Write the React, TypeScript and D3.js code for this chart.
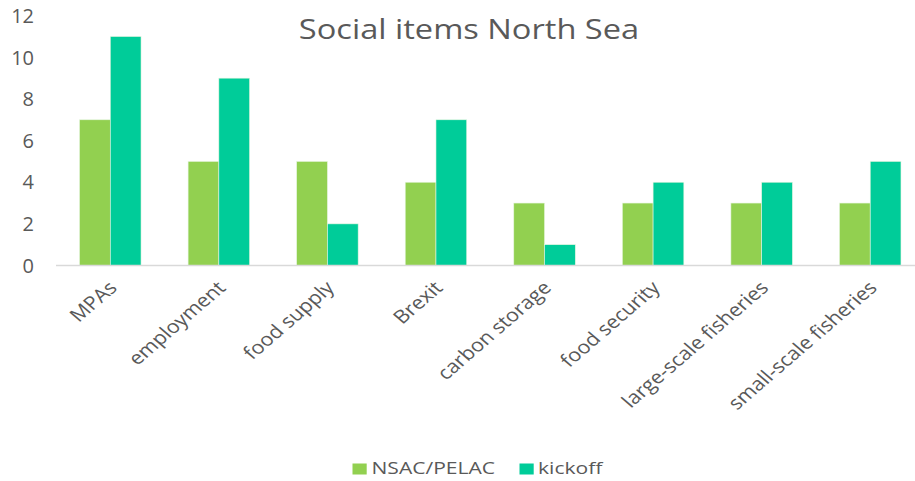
import React from "react";
import * as d3 from "d3";

const categories = ["MPAs", "employment", "food supply", "Brexit", "carbon storage", "food security", "large-scale fisheries", "small-scale fisheries"];
const seriesNames = ["NSAC/PELAC", "kickoff"];
const nsacValues = [7, 5, 5, 4, 3, 3, 3, 3];
const kickoffValues = [11, 9, 2, 7, 1, 4, 4, 5];
const yTicks = [0, 2, 4, 6, 8, 10, 12];
const colors = ["#92D050", "#00CC99"];

const W = 915;
const H = 481;
const FONT = "'Open Sans', sans-serif";
const TXT = "#595959";

export default function App() {
  const x0 = d3.scaleBand<string>().domain(categories).range([56, 924.5]).paddingInner(0).paddingOuter(0);
  const step = x0.step();
  const barW = step / 3.53;
  const y = d3.scaleLinear().domain([0, 12]).range([265.5, 15.7]);
  const series = [nsacValues, kickoffValues];

  return (
    <svg width={W} height={H} style={{ position: "absolute", left: 0, top: 0, background: "#fff" }} fontFamily={FONT}>
      <text transform="translate(469,38.5) scale(1.165,1)" textAnchor="middle" fontSize={28} fill={TXT}>Social items North Sea</text>
      {yTicks.map((t) => (
        <text key={t} x={34} y={y(t) + 7.2} textAnchor="end" fontSize={20} fill={TXT}>{t}</text>
      ))}
      {categories.map((c, i) => {
        const cx = (x0(c) as number) + step / 2;
        return (
          <g key={c}>
            {series.map((vals, s) => (
              <rect key={s} x={cx - barW + s * barW} y={y(vals[i])} width={barW} height={y(0) - y(vals[i])} fill={colors[s]} stroke="#e6f5e0" strokeWidth={0.6} />
            ))}
            <text transform={`translate(${cx + 8},${289}) scale(1.16,1) rotate(-45)`} textAnchor="end" fontSize={18.5} fill={TXT}>{c}</text>
          </g>
        );
      })}
      <line x1={56} x2={915} y1={y(0)} y2={y(0)} stroke="#d9d9d9" strokeWidth={1.5} />
      <g>
        <rect x={352.5} y={463.5} width={14.2} height={11} fill={colors[0]} />
        <text transform="translate(371.5,474.3) scale(1.24,1)" fontSize={17} fill={TXT}>{seriesNames[0]}</text>
        <rect x={519.5} y={463.5} width={14.2} height={11} fill={colors[1]} />
        <text transform="translate(538,474.3) scale(1.24,1)" fontSize={17} fill={TXT}>{seriesNames[1]}</text>
      </g>
    </svg>
  );
}
